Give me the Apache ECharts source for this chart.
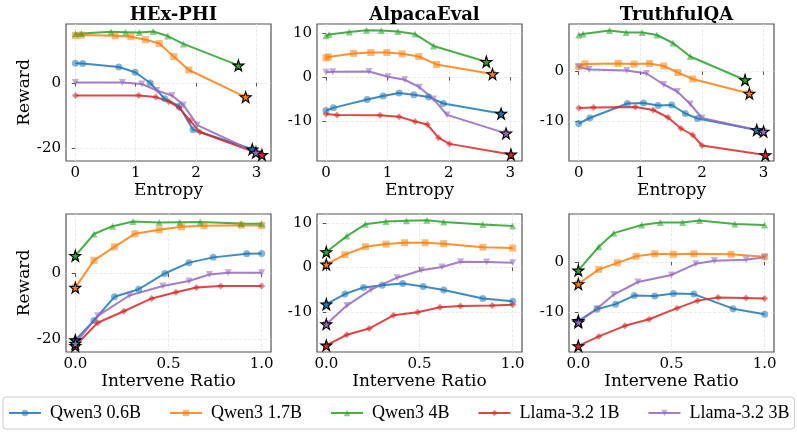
<!DOCTYPE html>
<html>
<head>
<meta charset="utf-8">
<script src="https://cdn.jsdelivr.net/npm/echarts@6/dist/echarts.min.js"></script>
<style>
    html, body { margin: 0; padding: 0; background: #fff; }
    #chart { width: 797px; height: 433px; }
</style>
</head>
<body>
<div id="chart"></div>
<script>
// model order: Qwen3 0.6B, Qwen3 1.7B, Qwen3 4B, Llama-3.2 1B, Llama-3.2 3B
const models = ['Qwen3 0.6B', 'Qwen3 1.7B', 'Qwen3 4B', 'Llama-3.2 1B', 'Llama-3.2 3B'];
const datasets = ['HEx-PHI', 'AlpacaEval', 'TruthfulQA'];

// first point of each row = base model (ratio 0), drawn as a star
const hexRatio = [
    [0, 0.10, 0.21, 0.34, 0.48, 0.61, 0.74, 0.92, 1.0],
    [0, 0.10, 0.21, 0.32, 0.45, 0.57, 0.69, 0.89, 1.0],
    [0, 0.10, 0.20, 0.31, 0.45, 0.56, 0.67, 0.89, 1.0],
    [0, 0.12, 0.26, 0.41, 0.54, 0.65, 0.78, 1.0],
    [0, 0.12, 0.29, 0.47, 0.61, 0.72, 0.82, 1.0]
];
const hexEntropy = [
    [2.93, 1.95, 1.72, 1.48, 1.24, 0.99, 0.72, 0.12, 0],
    [2.82, 1.88, 1.63, 1.39, 1.16, 0.92, 0.66, 0.10, 0],
    [2.70, 1.79, 1.53, 1.29, 1.06, 0.83, 0.59, 0.10, 0],
    [3.09, 2.06, 1.90, 1.72, 1.55, 1.33, 1.05, 0],
    [2.99, 2.02, 1.79, 1.60, 1.35, 1.10, 0.78, 0]
];
const hexReward = [
    [-20.3, -14.3, -7.1, -4.8, 0.0, 3.3, 4.9, 6.0, 6.1],
    [-4.3, 4.0, 8.1, 12.1, 13.3, 14.2, 14.5, 14.7, 14.6],
    [5.4, 12.0, 14.4, 15.8, 15.5, 15.6, 15.7, 15.2, 15.1],
    [-22.0, -15.0, -11.5, -7.6, -5.7, -4.3, -3.8, -3.8],
    [-21.3, -12.9, -6.7, -3.8, -2.3, -0.3, 0.2, 0.2]
];

const alpacaRatio = [
    [0, 0.10, 0.20, 0.30, 0.41, 0.52, 0.63, 0.84, 1.0],
    [0, 0.10, 0.21, 0.32, 0.42, 0.53, 0.63, 0.84, 1.0],
    [0, 0.11, 0.21, 0.32, 0.43, 0.54, 0.63, 0.84, 1.0],
    [0, 0.11, 0.23, 0.36, 0.49, 0.61, 0.72, 0.89, 1.0],
    [0, 0.11, 0.24, 0.38, 0.51, 0.62, 0.72, 0.86, 1.0]
];
const alpacaEntropy = [
    [2.85, 1.91, 1.67, 1.43, 1.19, 0.93, 0.67, 0.12, 0],
    [2.71, 1.80, 1.51, 1.24, 0.99, 0.73, 0.45, 0.04, 0],
    [2.61, 1.75, 1.45, 1.17, 0.90, 0.66, 0.38, 0.05, 0],
    [3.01, 2.01, 1.83, 1.65, 1.45, 1.19, 0.88, 0.18, 0],
    [2.93, 1.97, 1.75, 1.52, 1.28, 1.01, 0.70, 0.11, 0]
];
const alpacaReward = [
    [-8.3, -6.0, -4.5, -4.0, -3.6, -4.3, -5.1, -7.0, -7.6],
    [0.7, 2.9, 4.7, 5.3, 5.6, 5.6, 5.4, 4.6, 4.4],
    [3.5, 7.1, 9.8, 10.4, 10.6, 10.7, 10.3, 9.7, 9.4],
    [-17.6, -15.2, -13.8, -10.8, -10.1, -9.0, -8.7, -8.6, -8.4],
    [-12.8, -8.6, -5.0, -2.3, -0.6, 0.1, 1.3, 1.25, 1.1]
];

const tqaRatio = [
    [0, 0.10, 0.20, 0.30, 0.41, 0.51, 0.62, 0.83, 1.0],
    [0, 0.11, 0.21, 0.31, 0.41, 0.51, 0.62, 0.82, 1.0],
    [0, 0.11, 0.19, 0.34, 0.44, 0.56, 0.65, 0.84, 1.0],
    [0, 0.11, 0.25, 0.38, 0.53, 0.64, 0.75, 0.90, 1.0],
    [0, 0.10, 0.19, 0.32, 0.50, 0.63, 0.73, 0.90, 1.0]
];
const tqaEntropy = [
    [2.89, 1.93, 1.73, 1.51, 1.29, 1.05, 0.79, 0.18, 0],
    [2.77, 1.85, 1.61, 1.38, 1.15, 0.90, 0.64, 0.10, 0],
    [2.70, 1.81, 1.53, 1.27, 1.03, 0.77, 0.50, 0.07, 0],
    [3.03, 2.00, 1.85, 1.66, 1.45, 1.21, 0.92, 0.24, 0],
    [3.00, 2.00, 1.81, 1.60, 1.38, 1.10, 0.78, 0.17, 0]
];
const tqaReward = [
    [-11.7, -9.4, -8.4, -6.7, -6.8, -6.3, -6.4, -9.3, -10.4],
    [-4.4, -1.5, -0.2, 1.1, 1.6, 1.5, 1.6, 1.5, 1.0],
    [-1.7, 3.0, 5.7, 7.3, 7.8, 7.8, 8.2, 7.5, 7.3],
    [-16.7, -14.8, -12.7, -11.4, -9.2, -7.7, -7.1, -7.2, -7.3],
    [-12.0, -9.3, -6.5, -4.0, -2.6, -0.4, 0.2, 0.4, 0.9]
];

const entropyTicks = [0, 1, 2, 3];
const ratioTicks = [0, 0.5, 1.0];
const rewardTicks = [[-20, 0], [-10, 0, 10], [-10, 0]];

const colors = ['#1f77b4', '#ff7f0e', '#2ca02c', '#d62728', '#9467bd'];
const symbols = ['circle', 'rect', 'triangle', 'diamond', 'triangle'];
const symbolRot = [0, 0, 0, 0, 180];
const star = 'path://M50,0 L61,35 L98,35 L68,57 L79,91 L50,70 L21,91 L32,57 L2,35 L39,35 Z';
const serif = 'DejaVu Serif';

const columns = [
    { left: 66, yMin: -23.9, yMax: 18.1, eMax: 3.24, eMin: -0.155 },
    { left: 317, yMin: -19.1, yMax: 12.1, eMax: 3.19, eMin: -0.146 },
    { left: 569, yMin: -17.9, yMax: 9.5, eMax: 3.17, eMin: -0.158 }
];
const rows = [{ top: 24, height: 137 }, { top: 214, height: 138 }];
const entropyData = [hexEntropy, alpacaEntropy, tqaEntropy];
const ratioData = [hexRatio, alpacaRatio, tqaRatio];
const rewardData = [hexReward, alpacaReward, tqaReward];

let grid = [], xAxis = [], yAxis = [], series = [], title = [];

datasets.forEach((name, c) => {
    title.push({
        text: name,
        left: columns[c].left + 102.5,
        top: 1,
        textAlign: 'center',
        textStyle: { fontFamily: serif, fontWeight: 'bold', fontSize: 18, color: '#000' }
    });
});

rows.forEach((row, r) => {
    columns.forEach((col, c) => {
        let g = grid.length;
        grid.push({
            left: col.left, top: row.top, width: 205, height: row.height,
            show: true, borderColor: '#555', borderWidth: 1.2, backgroundColor: 'transparent'
        });
        let isEntropy = r === 0;
        let ticks = isEntropy ? entropyTicks : ratioTicks;
        xAxis.push({
            type: 'value', gridIndex: g,
            min: isEntropy ? col.eMin : -0.05,
            max: isEntropy ? col.eMax : 1.05,
            name: isEntropy ? 'Entropy' : 'Intervene Ratio',
            nameLocation: 'middle', nameGap: 18,
            nameTextStyle: { fontFamily: serif, fontSize: 17, color: '#000' },
            axisLine: { show: false },
            axisTick: { show: true, length: 3.5, lineStyle: { color: '#555' }, customValues: ticks },
            axisLabel: {
                fontFamily: serif, fontSize: 15, color: '#000', margin: 5,
                customValues: ticks,
                formatter: v => isEntropy ? String(Math.round(v)) : v.toFixed(1)
            },
            splitLine: { show: true, lineStyle: { color: '#e6e6e6', type: 'dashed', width: 0.8 } }
        });
        yAxis.push({
            type: 'value', gridIndex: g,
            min: col.yMin, max: col.yMax,
            name: c === 0 ? 'Reward' : '',
            nameLocation: 'middle', nameGap: 29, nameRotate: 90,
            nameTextStyle: { fontFamily: serif, fontSize: 17, color: '#000' },
            axisLine: { show: false },
            axisTick: { show: true, length: 3.5, lineStyle: { color: '#555' }, customValues: rewardTicks[c] },
            axisLabel: { fontFamily: serif, fontSize: 15, color: '#000', margin: 5, customValues: rewardTicks[c] },
            splitLine: { show: true, lineStyle: { color: '#e6e6e6', type: 'dashed', width: 0.8 } }
        });

        let xs = isEntropy ? entropyData[c] : ratioData[c];
        models.forEach((m, k) => {
            let pts = xs[k].map((x, i) => [x, rewardData[c][k][i]]);
            series.push({
                name: m, type: 'line', xAxisIndex: g, yAxisIndex: g,
                data: pts,
                symbol: symbols[k], symbolRotate: symbolRot[k], symbolSize: 7,
                lineStyle: { color: colors[k], width: 2, opacity: 0.85 },
                itemStyle: { color: colors[k], opacity: 0.55 },
                emphasis: { disabled: true },
                z: 2
            });
            series.push({
                type: 'scatter', xAxisIndex: g, yAxisIndex: g,
                data: [pts[0]],
                symbol: star, symbolSize: 11,
                itemStyle: { color: colors[k], borderColor: '#000', borderWidth: 1.1, opacity: 1 },
                emphasis: { disabled: true },
                z: 5
            });
        });
    });
});

let chart = echarts.init(document.getElementById('chart'));
chart.setOption({
    backgroundColor: '#fff',
    animation: false,
    title: title,
    grid: grid,
    xAxis: xAxis,
    yAxis: yAxis,
    legend: {
        data: models,
        left: 3, top: 397,
        width: 792,
        padding: [7, 5, 7, 5],
        itemGap: 28,
        itemWidth: 32, itemHeight: 8,
        borderColor: '#ccc', borderWidth: 1, borderRadius: 3,
        textStyle: { fontFamily: 'Liberation Serif', fontSize: 18, color: '#000', padding: [0, 0, 0, 4] }
    },
    series: series
});
</script>
</body>
</html>
